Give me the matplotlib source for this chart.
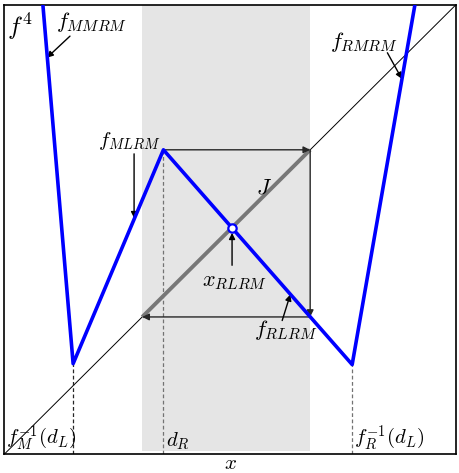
import numpy as np
import matplotlib.pyplot as plt

plt.rcParams['mathtext.fontset'] = 'cm'

# blue piecewise-linear map f^4
curve_x = [0.085, 0.152, 0.352, 0.770, 0.909]
curve_y = [1.000, 0.201, 0.677, 0.199, 1.000]

# shaded interval J and its end points on the diagonal
band = [0.305, 0.677]
# dashed markers
dash_x = [0.152, 0.352, 0.770]
dash_top = [0.201, 0.677, 0.199]
# fixed point x_RLRM
fixed = 0.504

fig = plt.figure(figsize=(4.59, 4.73), dpi=100)
ax = fig.add_axes([0.0098, 0.0402, 0.9837, 0.9499])
ax.set_xlim(0, 1)
ax.set_ylim(0, 1)
ax.set_xticks([])
ax.set_yticks([])
for s in ax.spines.values():
    s.set_linewidth(1.2)

ax.axvspan(band[0], band[1], ymin=0.006, color='#e5e5e5', lw=0, zorder=0)
ax.plot([0, 1], [0, 1], color='k', lw=0.7, zorder=1)
ax.plot(band, band, color='#777777', lw=2.8, zorder=2, solid_capstyle='butt')

for x, t, c in zip(dash_x, dash_top, ['0.15', '0.45', '0.45']):
    ax.plot([x, x], [0, t], ls='--', color=c, lw=0.9, dashes=(3, 2), zorder=1)

ax.plot(curve_x, curve_y, color='#0000ff', lw=2.6, zorder=4)

# cobweb
ac = dict(arrowstyle='-|>', color='0.15', lw=1.0, mutation_scale=10, shrinkA=0, shrinkB=0)
peak_y = curve_y[2]
ax.annotate('', xy=(band[1], peak_y), xytext=(curve_x[2], peak_y), arrowprops=ac, zorder=3)
ax.annotate('', xy=(band[1], band[0]), xytext=(band[1], peak_y), arrowprops=ac, zorder=3)
ax.annotate('', xy=(band[0], band[0]), xytext=(band[1], band[0]), arrowprops=ac, zorder=3)

ax.plot([fixed], [fixed], 'o', ms=6, mfc='white', mec='#0000ff', mew=1.6, zorder=5)

lp = dict(arrowstyle='-|>', color='k', lw=1.0, mutation_scale=9, shrinkA=0, shrinkB=0)
fs = 16
ax.text(0.006, 0.985, r'$f^4$', fontsize=18, va='top', ha='left')
ax.text(0.115, 0.935, r'$f_{MMRM}$', fontsize=fs, ha='left', va='bottom')
ax.annotate('', xy=(0.094, 0.882), xytext=(0.145, 0.93), arrowprops=lp)
ax.text(0.72, 0.89, r'$f_{RMRM}$', fontsize=fs, ha='left', va='bottom')
ax.annotate('', xy=(0.880, 0.835), xytext=(0.848, 0.893), arrowprops=lp)
ax.text(0.207, 0.672, r'$f_{MLRM}$', fontsize=15, ha='left', va='bottom')
ax.annotate('', xy=(0.287, 0.525), xytext=(0.287, 0.668), arrowprops=lp)
ax.text(0.556, 0.57, r'$J$', fontsize=fs, ha='left', va='bottom')
ax.text(0.51, 0.36, r'$x_{RLRM}$', fontsize=fs, ha='center', va='bottom')
ax.annotate('', xy=(fixed, fixed - 0.012), xytext=(fixed, 0.42), arrowprops=lp)
ax.text(0.553, 0.25, r'$f_{RLRM}$', fontsize=fs, ha='left', va='bottom')
ax.annotate('', xy=(0.633, 0.355), xytext=(0.615, 0.297), arrowprops=lp)

fb = 15
ax.text(0.003, 0.004, r'$f_M^{-1}(d_L)$', fontsize=fb, ha='left', va='bottom')
ax.text(0.357, 0.004, r'$d_R$', fontsize=fb, ha='left', va='bottom')
ax.text(0.775, 0.004, r'$f_R^{-1}(d_L)$', fontsize=fb, ha='left', va='bottom')

ax.set_xlabel(r'$x$', fontsize=15, labelpad=-1)

fig.savefig('out.png', dpi=100)
